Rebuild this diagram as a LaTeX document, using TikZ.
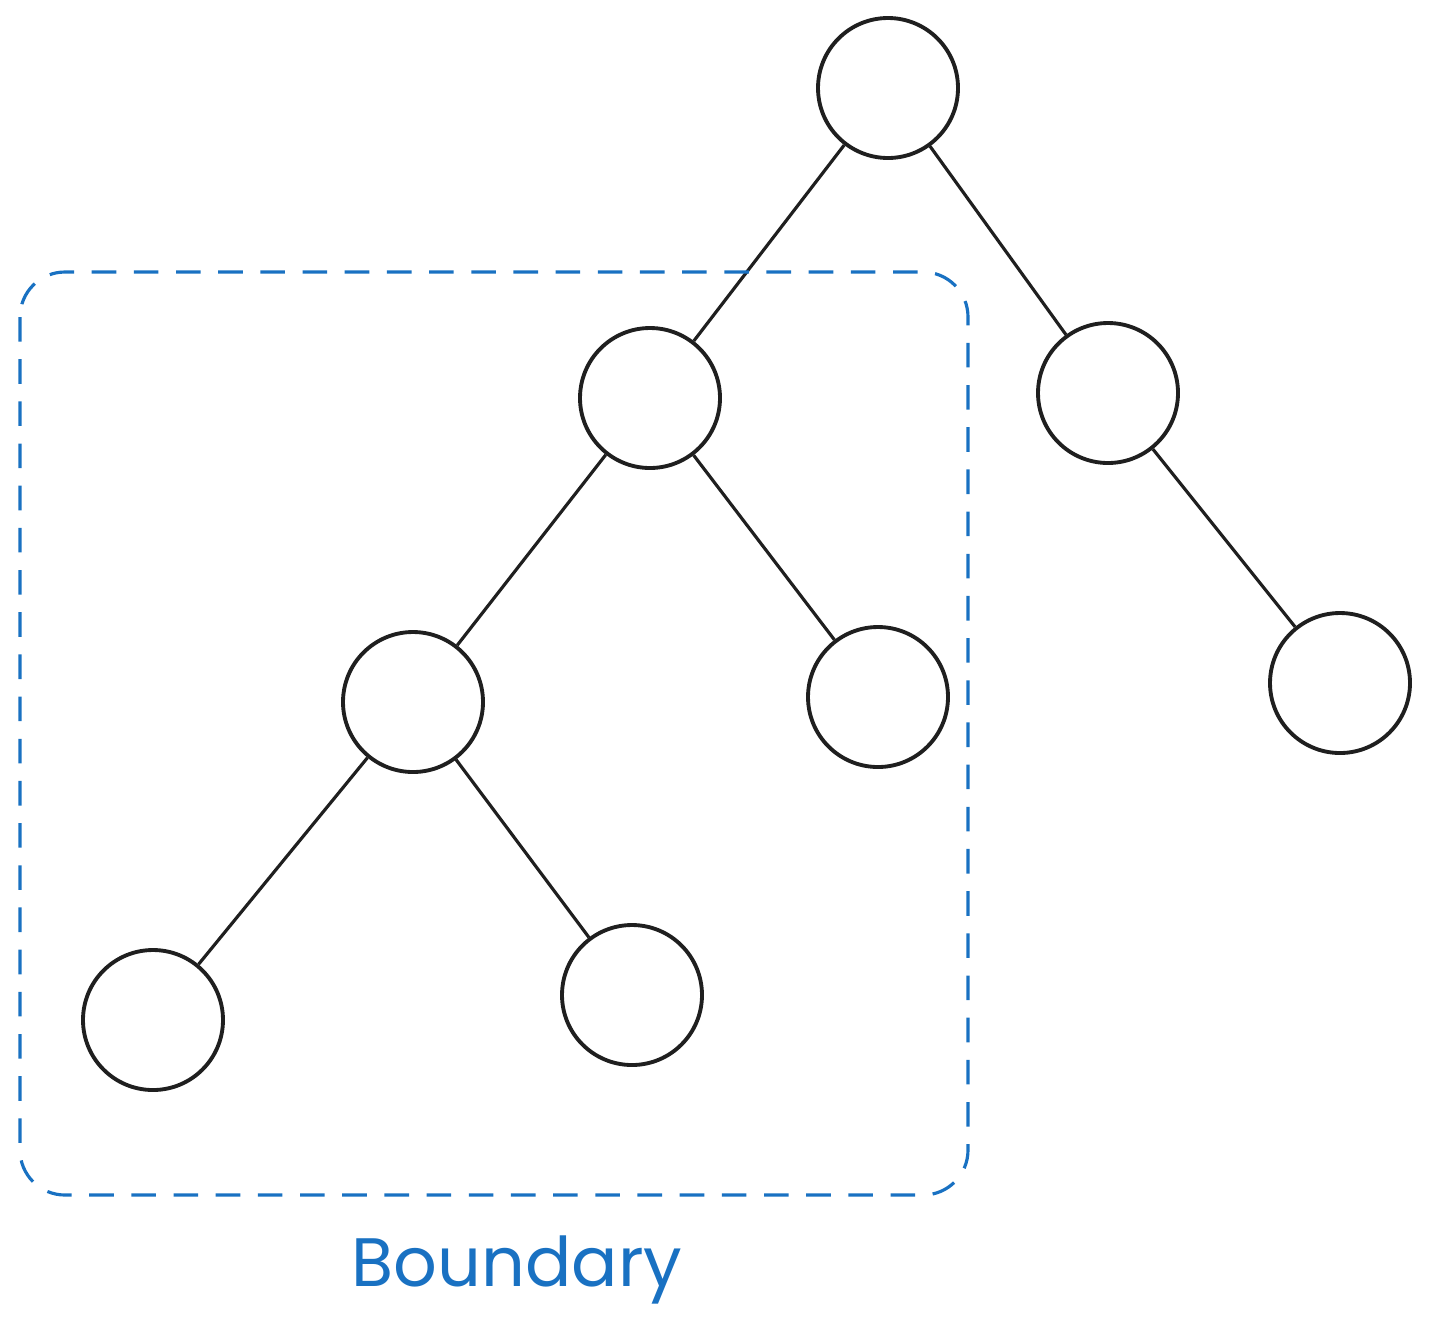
\documentclass[tikz,border=0pt]{standalone}
\usepackage{fontspec}
\newfontfamily\handfont{Poppins}
\definecolor{boundblue}{HTML}{1971C2}
\begin{document}
\begin{tikzpicture}[x=1cm, y=-1cm,
  vert/.style={circle, draw=black!88, line width=1.1pt, minimum size=1.4cm, inner sep=0pt},
  edge/.style={draw=black!88, line width=0.9pt},
  boundary/.style={draw=boundblue, line width=0.9pt, dash pattern=on 7pt off 5pt, rounded corners=0.45cm}]
  \useasboundingbox (0,0) rectangle (14.32,13.33);

  % Level 0
  \node[vert] (root) at (8.88,0.88) {};

  % Level 1
  \node[vert] (a) at (6.50,3.98) {};
  \node[vert] (b) at (11.08,3.93) {};

  % Level 2
  \node[vert] (c) at (4.13,7.02) {};
  \node[vert] (d) at (8.78,6.97) {};
  \node[vert] (e) at (13.40,6.83) {};

  % Level 3
  \node[vert] (f) at (1.53,10.20) {};
  \node[vert] (g) at (6.32,9.95) {};

  % Edges
  \draw[edge] (root) -- (a);
  \draw[edge] (root) -- (b);
  \draw[edge] (a) -- (c);
  \draw[edge] (a) -- (d);
  \draw[edge] (b) -- (e);
  \draw[edge] (c) -- (f);
  \draw[edge] (c) -- (g);

  % Boundary around the subtree
  \draw[boundary] (0.20,2.72) rectangle (9.68,11.95);
  \node[text=boundblue, font=\handfont\fontsize{19.5}{23}\selectfont] (label) at (5.17,12.70) {Boundary};
\end{tikzpicture}
\end{document}
